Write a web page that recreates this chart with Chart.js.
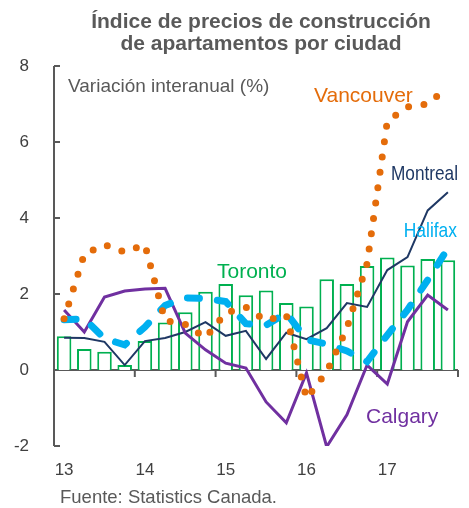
<!DOCTYPE html>
<html>
<head>
<meta charset="utf-8">
<script src="https://cdn.jsdelivr.net/npm/chart.js@4"></script>
<style>
  html, body { margin: 0; padding: 0; background: #fff; }
  canvas { display: block; }
</style>
</head>
<body>
<canvas id="chart" width="469" height="508" style="width:469px;height:508px"></canvas>
<script>
// quarterly, 2013 Q1 .. 2017 Q4 (only Q1 gets a year label)
const quarterLabels = ['13', '', '', '', '14', '', '', '', '15', '', '', '', '16', '', '', '', '17', '', '', ''];

// year-over-year change (%)
const toronto   = [0.89, 0.55, 0.48, 0.13, 0.76, 1.25, 1.52, 2.06, 2.26, 1.97, 2.09, 1.76, 1.67, 2.39, 2.26, 2.74, 2.96, 2.75, 2.92, 2.89];
const vancouver = [1.35, 3.05, 3.3, 3.1, 3.3, 1.3, 1.2, 0.85, 1.5, 1.65, 1.3, 1.45, -0.75, -0.05, 1.1, 2.8, 6.55, 6.92, 7.0, 7.45];
const montreal  = [0.85, 0.84, 0.74, 0.13, 0.76, 0.84, 1.0, 1.26, 0.9, 1.03, 0.29, 0.98, 0.81, 1.1, 1.76, 1.66, 2.63, 2.97, 4.2, 4.68];
const halifax   = [1.32, 1.35, 0.83, 0.66, 1.13, 1.7, 1.9, 1.88, 1.8, 1.22, 1.18, 1.5, 0.8, 0.68, 0.5, 0.22, 0.92, 1.58, 2.37, 3.2];
const calgary   = [1.58, 1.0, 1.92, 2.08, 2.13, 2.15, 0.97, 0.53, 0.18, 0.05, -0.84, -1.39, -0.08, -2.02, -1.18, 0.13, -0.37, 1.27, 1.97, 1.58];

const yMin = -2;
const yMax = 8;
const yStep = 2;

const FONT = "'Liberation Sans', Arial, sans-serif";
const COLORS = {
  toronto: '#00B050',
  vancouver: '#E46C0A',
  montreal: '#1F3864',
  halifax: '#00B0F0',
  calgary: '#7030A0',
  axis: '#595959',
  text: '#595959'
};

function drawText(ctx, text, x, y, font, color, align, scaleX) {
  ctx.save();
  ctx.font = font;
  ctx.fillStyle = color;
  ctx.textAlign = align || 'left';
  ctx.textBaseline = 'alphabetic';
  ctx.translate(x, y);
  ctx.scale(scaleX || 1, 1);
  ctx.fillText(text, 0, 0);
  ctx.restore();
}

// axis lines with inward ticks, plus titles and series labels
const decorations = {
  id: 'decorations',
  beforeDatasetsDraw(chart) {
    const { ctx, chartArea } = chart;
    const x = chart.scales.x;
    const y = chart.scales.y;
    ctx.save();
    ctx.strokeStyle = COLORS.axis;
    ctx.lineWidth = 2;
    ctx.lineCap = 'butt';

    // y axis + ticks pointing into the plot
    ctx.beginPath();
    ctx.moveTo(chartArea.left, y.getPixelForValue(yMax));
    ctx.lineTo(chartArea.left, y.getPixelForValue(yMin));
    for (let v = yMin; v <= yMax; v += yStep) {
      const py = y.getPixelForValue(v);
      ctx.moveTo(chartArea.left, py);
      ctx.lineTo(chartArea.left + 6, py);
    }
    ctx.stroke();

    // x axis on the zero line, ticks between years
    const zero = y.getPixelForValue(0);
    const step = (x.right - x.left) / quarterLabels.length;
    ctx.beginPath();
    ctx.moveTo(chartArea.left, zero);
    ctx.lineTo(chartArea.right, zero);
    for (let i = 4; i <= quarterLabels.length; i += 4) {
      const px = x.left + i * step;
      ctx.moveTo(px, zero);
      ctx.lineTo(px, zero + 7);
    }
    ctx.stroke();
    ctx.restore();
  },
  afterDraw(chart) {
    const ctx = chart.ctx;
    drawText(ctx, 'Índice de precios de construcción', 261, 27.5, 'bold 21px ' + FONT, COLORS.text, 'center');
    drawText(ctx, 'de apartamentos por ciudad', 261, 50, 'bold 21px ' + FONT, COLORS.text, 'center');
    drawText(ctx, 'Variación interanual (%)', 68, 92, '19px ' + FONT, COLORS.text, 'left');

    drawText(ctx, 'Vancouver', 314, 102, '21px ' + FONT, COLORS.vancouver, 'left');
    drawText(ctx, 'Montreal', 458, 180, '21px ' + FONT, COLORS.montreal, 'right', 0.82);
    drawText(ctx, 'Halifax', 457, 237, '21px ' + FONT, COLORS.halifax, 'right', 0.83);
    drawText(ctx, 'Toronto', 217, 278, '21px ' + FONT, COLORS.toronto, 'left');
    drawText(ctx, 'Calgary', 366, 423, '21px ' + FONT, COLORS.calgary, 'left');

    drawText(ctx, 'Fuente: Statistics Canada.', 60, 503, '18.5px ' + FONT, COLORS.text, 'left');
  }
};

new Chart(document.getElementById('chart').getContext('2d'), {
  data: {
    labels: quarterLabels,
    datasets: [
      {
        type: 'line',
        label: 'Vancouver',
        data: vancouver,
        borderColor: COLORS.vancouver,
        borderWidth: 7,
        borderDash: [0, 15.5],
        borderCapStyle: 'round',
        pointRadius: 0,
        tension: 0,
        order: 1
      },
      {
        type: 'line',
        label: 'Halifax',
        data: halifax,
        borderColor: COLORS.halifax,
        borderWidth: 7,
        borderDash: [12, 18],
        borderCapStyle: 'round',
        pointRadius: 0,
        tension: 0,
        order: 2
      },
      {
        type: 'line',
        label: 'Calgary',
        data: calgary,
        borderColor: COLORS.calgary,
        borderWidth: 3,
        pointRadius: 0,
        tension: 0,
        order: 3
      },
      {
        type: 'line',
        label: 'Montreal',
        data: montreal,
        borderColor: COLORS.montreal,
        borderWidth: 2,
        pointRadius: 0,
        tension: 0,
        order: 4
      },
      {
        type: 'bar',
        label: 'Toronto',
        data: toronto,
        backgroundColor: '#ffffff',
        borderColor: COLORS.toronto,
        borderWidth: 2,
        barPercentage: 0.72,
        categoryPercentage: 1.0,
        order: 10
      }
    ]
  },
  options: {
    responsive: false,
    animation: false,
    devicePixelRatio: 1,
    layout: { padding: { top: 66, right: 11, left: 0, bottom: 0 } },
    plugins: {
      legend: { display: false },
      tooltip: { enabled: false },
      title: { display: false }
    },
    scales: {
      x: {
        type: 'category',
        offset: true,
        grid: { display: false },
        border: { display: false },
        ticks: {
          autoSkip: false,
          maxRotation: 0,
          padding: 6,
          color: '#404040',
          font: { family: FONT, size: 17 }
        },
        afterFit(scale) { scale.height = 62; }
      },
      y: {
        min: yMin,
        max: yMax,
        grid: { display: false },
        border: { display: false },
        ticks: {
          stepSize: yStep,
          padding: 17,
          color: '#404040',
          font: { family: FONT, size: 17 }
        },
        afterFit(scale) { scale.width = 54; }
      }
    }
  },
  plugins: [decorations]
});
</script>
</body>
</html>
